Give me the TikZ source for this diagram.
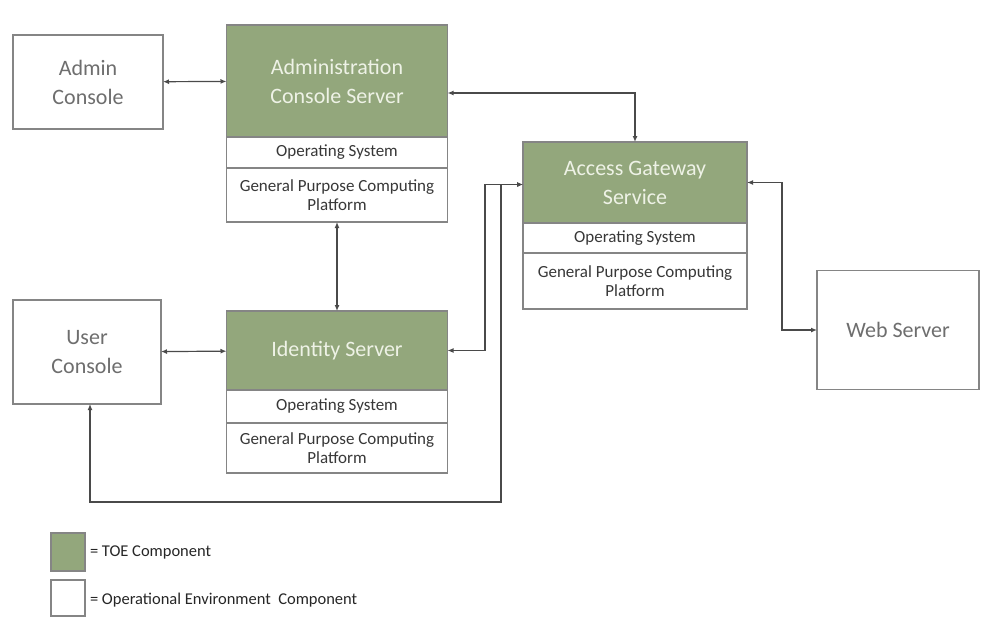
\documentclass[tikz,border=0pt]{standalone}
\usepackage{fontspec}
\setmainfont{Carlito}
\usepackage{tikz}
\usetikzlibrary{arrows.meta}

\definecolor{toegreen}{HTML}{93A77C}
\definecolor{boxgray}{HTML}{858585}
\definecolor{linegray}{HTML}{4A4A4A}
\definecolor{headtext}{HTML}{EEF2E6}
\definecolor{envtext}{HTML}{6E6E6E}

\begin{document}
\begin{tikzpicture}[x=1pt,y=-1pt,
  every node/.style={inner sep=0pt,outer sep=0pt,align=center},
  toebox/.style={draw=boxgray,line width=1.4pt,fill=toegreen,text=headtext,
    font=\fontsize{22}{29}\selectfont},
  envbox/.style={draw=boxgray,line width=1.4pt,fill=white,text=envtext,
    font=\fontsize{22}{29}\selectfont},
  layer/.style={draw=boxgray,line width=1.4pt,fill=white,text=black!78,
    font=\fontsize{17}{19}\selectfont},
  link/.style={draw=linegray,line width=1.2pt,{Latex[length=6pt,width=5pt]}-{Latex[length=6pt,width=5pt]}},
  legend/.style={anchor=west,text=black!85,font=\fontsize{16.5}{18}\selectfont}]
\useasboundingbox (0,0) rectangle (992,616);

% operational environment
\node[envbox,minimum width=150,minimum height=94] (adm) at (88,82) {Admin\\Console};
\node[envbox,minimum width=148,minimum height=104] (ucon) at (87,352) {User\\Console};
\node[envbox,minimum width=162,minimum height=119] (web) at (898,330) {Web Server};

% administration console server
\node[toebox,minimum width=221,minimum height=112] (acs) at (337,81) {Administration\\Console Server};
\node[layer,minimum width=221,minimum height=31] (acsos) at (337,152.5) {Operating System};
\node[layer,minimum width=221,minimum height=54] (acsgp) at (337,195) {General Purpose Computing\\Platform};

% access gateway service
\node[toebox,minimum width=224,minimum height=81] (ags) at (635,182.5) {Access Gateway\\Service};
\node[layer,minimum width=224,minimum height=30] (agsos) at (635,238) {Operating System};
\node[layer,minimum width=224,minimum height=56] (agsgp) at (635,281) {General Purpose Computing\\Platform};

% identity server
\node[toebox,minimum width=221,minimum height=79] (ids) at (337,350.5) {Identity Server};
\node[layer,minimum width=221,minimum height=33] (idsos) at (337,406.5) {Operating System};
\node[layer,minimum width=221,minimum height=50] (idsgp) at (337,448) {General Purpose Computing\\Platform};

% connectors
\coordinate (bend) at (90,502);
\draw[link] (adm) -- (acs);
\draw[link] ([yshift=-12pt]acs.east) -| (ags.north);
\draw[link] (acsgp) -- (ids);
\draw[link] (ucon) -- (ids);
\draw[link] ([yshift=-2pt]ags.west) -- ++(-38,0) |- (ids.east);
\draw[link] ([yshift=-2pt]ags.west) -- ++(-22,0) |- (bend) -- (bend |- ucon.south);
\draw[link] (ags.east) -- ++(35,0) |- (web.west);

% legend
\node[toebox,minimum width=34,minimum height=38] (legtoe) at (68,552) {};
\node[envbox,minimum width=34,minimum height=36] (legenv) at (68,598) {};
\node[legend] (legtoetxt) at (90,552) {= TOE Component};
\node[legend] (legenvtxt) at (90,600) {= Operational Environment\ \ Component};
\end{tikzpicture}
\end{document}
